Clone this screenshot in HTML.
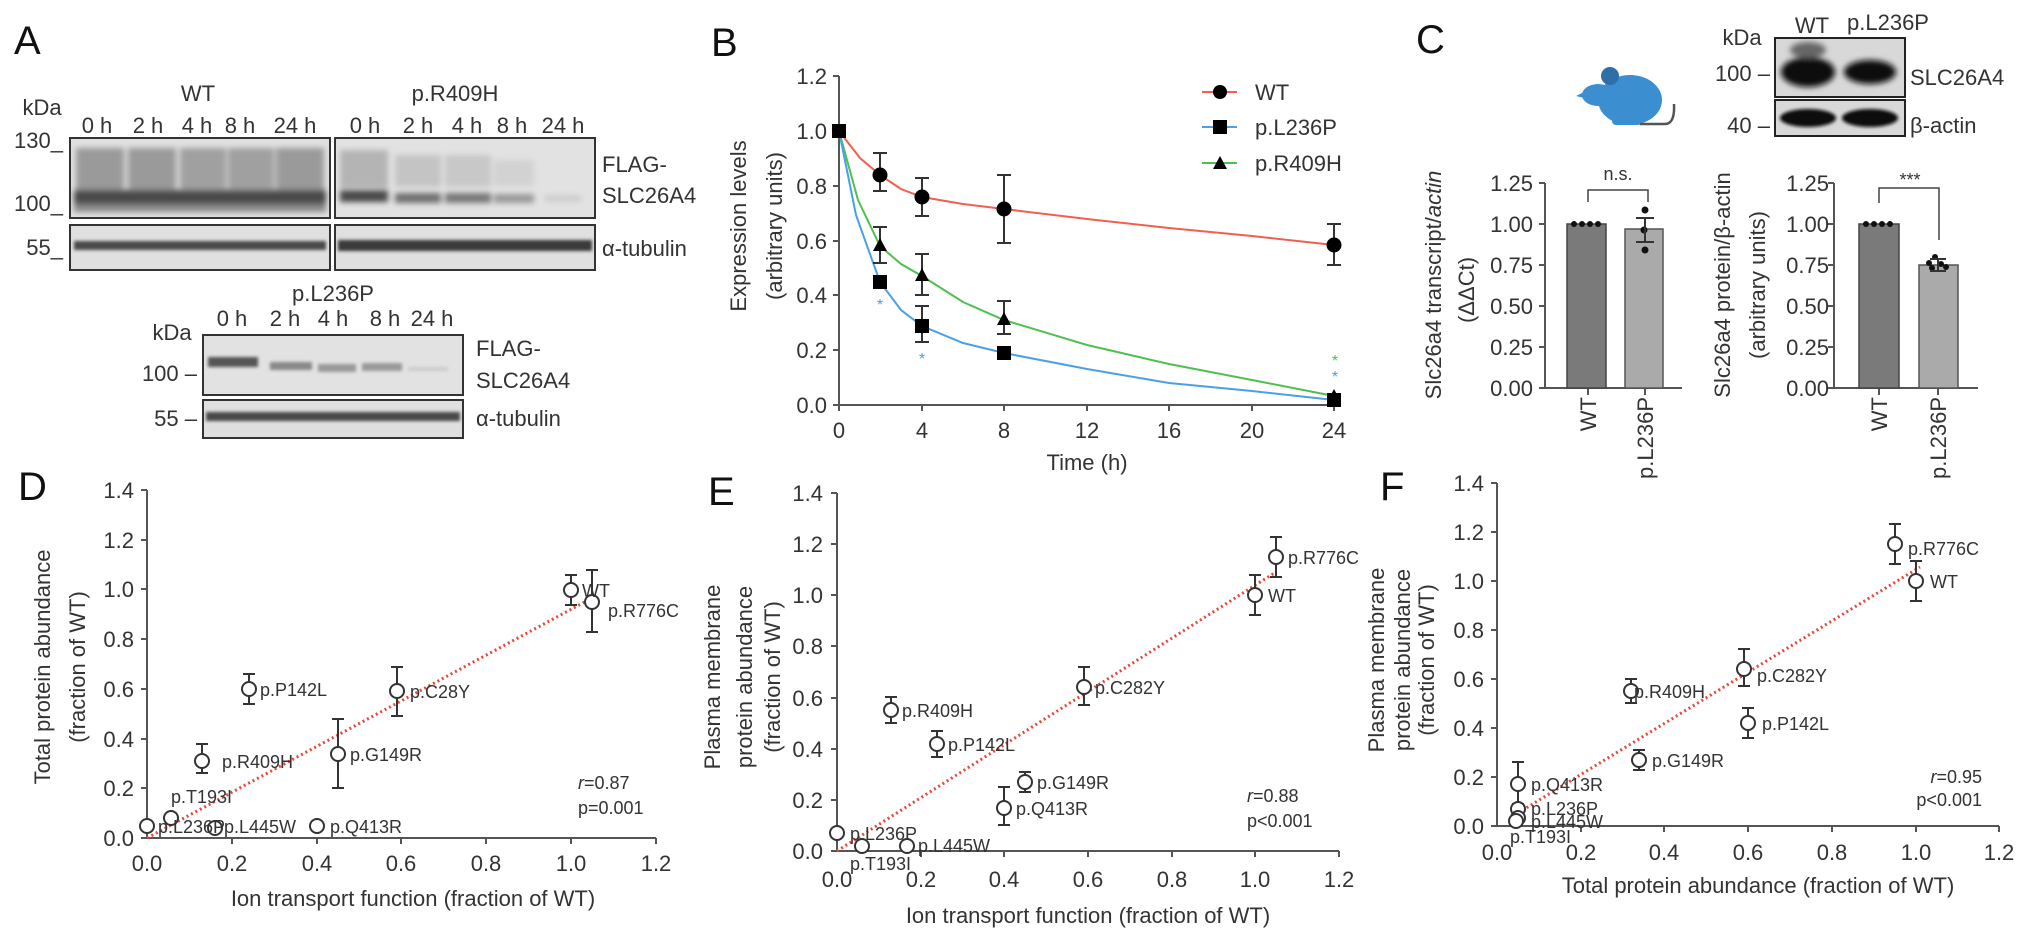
<!DOCTYPE html>
<html><head><meta charset="utf-8"><style>
html,body{margin:0;padding:0;background:#fff;}
svg{display:block;font-family:"Liberation Sans",Arial,sans-serif;}
.t{fill:#333;font-size:22px;}
.s{fill:#333;font-size:18px;}
.L{fill:#111;font-size:40px;}
.ax{stroke:#555;stroke-width:2;fill:none;}
.eb{stroke:#333;stroke-width:2;fill:none;}
.pt{fill:#fff;stroke:#333;stroke-width:2;}
.reg{stroke:#e8473a;stroke-width:3;stroke-dasharray:2 3;fill:none;}
</style></head><body>
<svg width="2032" height="946" viewBox="0 0 2032 946" xmlns="http://www.w3.org/2000/svg">
<defs>
<filter id="bl" x="-10%" y="-50%" width="120%" height="200%"><feGaussianBlur stdDeviation="3"/></filter>
<filter id="bl2" x="-10%" y="-50%" width="120%" height="200%"><feGaussianBlur stdDeviation="1.5"/></filter>
</defs>

<!-- ============ PANEL A ============ -->
<text class="L" x="14" y="54">A</text>
<text class="t" x="198" y="101" text-anchor="middle">WT</text>
<text class="t" x="455" y="101" text-anchor="middle">p.R409H</text>
<text class="t" x="42" y="115" text-anchor="middle">kDa</text>
<g class="t" text-anchor="middle">
<text x="97" y="133">0 h</text><text x="148" y="133">2 h</text><text x="197" y="133">4 h</text><text x="240" y="133">8 h</text><text x="295" y="133">24 h</text>
<text x="365" y="133">0 h</text><text x="418" y="133">2 h</text><text x="467" y="133">4 h</text><text x="512" y="133">8 h</text><text x="563" y="133">24 h</text>
</g>
<g class="t" text-anchor="end"><text x="63" y="148">130_</text><text x="63" y="211">100_</text><text x="63" y="255">55_</text></g>
<!-- WT blot -->
<rect x="70" y="138" width="260" height="80" fill="#e0e0e0"/>
<g filter="url(#bl)">
<rect x="76" y="148" width="48" height="42" fill="#9a9a9a"/><rect x="128" y="148" width="48" height="42" fill="#9a9a9a"/><rect x="180" y="148" width="46" height="42" fill="#a0a0a0"/><rect x="228" y="148" width="46" height="42" fill="#a0a0a0"/><rect x="276" y="148" width="48" height="42" fill="#9a9a9a"/>
<rect x="74" y="190" width="252" height="14" fill="#4a4a4a"/>
<rect x="74" y="204" width="252" height="8" fill="#888"/>
</g>
<rect x="70" y="138" width="260" height="80" fill="none" stroke="#333" stroke-width="2"/>
<rect x="70" y="225" width="260" height="45" fill="#e0e0e0"/>
<rect x="74" y="241" width="252" height="9" fill="#4a4a4a" filter="url(#bl2)"/>
<rect x="70" y="225" width="260" height="45" fill="none" stroke="#333" stroke-width="2"/>
<!-- R409H blot -->
<rect x="335" y="138" width="260" height="80" fill="#e2e2e2"/>
<g filter="url(#bl)">
<rect x="340" y="150" width="48" height="38" fill="#b4b4b4"/><rect x="395" y="155" width="46" height="32" fill="#c4c4c4"/><rect x="445" y="155" width="46" height="32" fill="#c8c8c8"/><rect x="494" y="160" width="40" height="26" fill="#d2d2d2"/>
<rect x="340" y="190" width="48" height="12" fill="#4a4a4a"/><rect x="395" y="193" width="46" height="10" fill="#707070"/><rect x="445" y="193" width="46" height="10" fill="#777"/><rect x="494" y="194" width="40" height="9" fill="#999"/><rect x="545" y="196" width="36" height="5" fill="#c6c6c6"/>
</g>
<rect x="335" y="138" width="260" height="80" fill="none" stroke="#333" stroke-width="2"/>
<rect x="335" y="225" width="260" height="45" fill="#e0e0e0"/>
<rect x="338" y="240" width="254" height="11" fill="#3a3a3a" filter="url(#bl2)"/>
<rect x="335" y="225" width="260" height="45" fill="none" stroke="#333" stroke-width="2"/>
<text class="t" x="602" y="172">FLAG-</text><text class="t" x="602" y="203">SLC26A4</text>
<text class="t" x="602" y="256">α-tubulin</text>
<!-- L236P blot -->
<text class="t" x="333" y="301" text-anchor="middle">p.L236P</text>
<g class="t" text-anchor="middle"><text x="232" y="326">0 h</text><text x="285" y="326">2 h</text><text x="333" y="326">4 h</text><text x="385" y="326">8 h</text><text x="432" y="326">24 h</text></g>
<text class="t" x="172" y="340" text-anchor="middle">kDa</text>
<rect x="203" y="335" width="260" height="60" fill="#e2e2e2"/>
<g filter="url(#bl2)">
<rect x="208" y="357" width="50" height="10" fill="#555"/><rect x="270" y="362" width="42" height="8" fill="#888"/><rect x="318" y="364" width="38" height="8" fill="#999"/><rect x="362" y="363" width="40" height="8" fill="#999"/><rect x="408" y="367" width="40" height="4" fill="#ccc"/>
</g>
<rect x="203" y="335" width="260" height="60" fill="none" stroke="#333" stroke-width="2"/>
<rect x="203" y="400" width="260" height="38" fill="#e0e0e0"/>
<rect x="206" y="412" width="254" height="9" fill="#4a4a4a" filter="url(#bl2)"/>
<rect x="203" y="400" width="260" height="38" fill="none" stroke="#333" stroke-width="2"/>
<text class="t" x="197" y="381" text-anchor="end">100 –</text>
<text class="t" x="197" y="426" text-anchor="end">55 –</text>
<text class="t" x="476" y="356">FLAG-</text><text class="t" x="476" y="388">SLC26A4</text>
<text class="t" x="476" y="426">α-tubulin</text>

<!-- ============ PANEL B ============ -->
<text class="L" x="711" y="56">B</text>
<path class="ax" d="M839 76 V405 H1334"/>
<g class="ax"><path d="M833 76H839M833 131H839M833 186H839M833 241H839M833 295H839M833 350H839M833 405H839"/>
<path d="M839 405v6M922 405v6M1004 405v6M1087 405v6M1169 405v6M1252 405v6M1334 405v6"/></g>
<g class="t" text-anchor="end"><text x="827" y="84">1.2</text><text x="827" y="139">1.0</text><text x="827" y="194">0.8</text><text x="827" y="249">0.6</text><text x="827" y="303">0.4</text><text x="827" y="358">0.2</text><text x="827" y="413">0.0</text></g>
<g class="t" text-anchor="middle"><text x="839" y="438">0</text><text x="922" y="438">4</text><text x="1004" y="438">8</text><text x="1087" y="438">12</text><text x="1169" y="438">16</text><text x="1252" y="438">20</text><text x="1334" y="438">24</text>
<text x="1087" y="470">Time (h)</text></g>
<text class="t" transform="translate(746,226) rotate(-90)" text-anchor="middle">Expression levels</text>
<text class="t" transform="translate(782,226) rotate(-90)" text-anchor="middle">(arbitrary units)</text>
<polyline fill="none" stroke="#f0604e" stroke-width="2" points="839,131 860,158 880,175 901,189 922,197 963,204 1004,209 1087,219 1169,228 1252,236 1334,245"/>
<polyline fill="none" stroke="#4ec04e" stroke-width="2" points="839,131 858,200 880,246 901,264 922,276 963,302 1004,320 1087,345 1169,364 1252,380 1334,396"/>
<polyline fill="none" stroke="#4aa0e6" stroke-width="2" points="839,131 856,215 880,282 901,310 922,326 963,343 1004,353 1087,369 1169,383 1252,391 1334,400"/>
<g class="eb"><path d="M880 153V191M873 153h14M873 191h14M922 178V216M915 178h14M915 216h14M1004 175V243M997 175h14M997 243h14M1334 224V265M1327 224h14M1327 265h14"/>
<path d="M880 227V263M873 227h14M873 263h14M922 254V295M915 254h14M915 295h14M1004 301V334M997 301h14M997 334h14M922 306V342M915 306h14M915 342h14"/></g>
<g fill="#000"><circle cx="880" cy="175" r="7.5"/><circle cx="922" cy="197" r="7.5"/><circle cx="1004" cy="209" r="7.5"/><circle cx="1334" cy="245" r="7.5"/>
<path d="M880 238l7 13h-14zM922 268l7 13h-14zM1004 312l7 13h-14zM1334 389l7 13h-14z"/>
<rect x="832" y="124" width="14" height="14"/><rect x="873" y="275" width="14" height="14"/><rect x="915" y="319" width="14" height="14"/><rect x="997" y="346" width="14" height="14"/><rect x="1327" y="393" width="14" height="14"/></g>
<g font-size="16" text-anchor="middle"><text x="880" y="310" fill="#4aa0e6">*</text><text x="922" y="364" fill="#4aa0e6">*</text><text x="1335" y="366" fill="#4ec04e">*</text><text x="1335" y="382" fill="#4aa0e6">*</text></g>
<!-- legend -->
<path d="M1202 92H1237" stroke="#f0604e" stroke-width="2"/><circle cx="1220" cy="92" r="7" fill="#000"/>
<path d="M1202 127H1237" stroke="#4aa0e6" stroke-width="2"/><rect x="1213" y="120" width="14" height="14" fill="#000"/>
<path d="M1202 163H1237" stroke="#4ec04e" stroke-width="2"/><path d="M1220 156l7 13h-14z" fill="#000"/>
<g class="t"><text x="1255" y="100">WT</text><text x="1255" y="135">p.L236P</text><text x="1255" y="171">p.R409H</text></g>

<!-- ============ PANEL C ============ -->
<text class="L" x="1416" y="53">C</text>
<!-- mouse -->
<g fill="#3b8fd1">
<ellipse cx="1630" cy="100" rx="32" ry="25"/>
<ellipse cx="1598" cy="95" rx="16" ry="11"/>
<circle cx="1610" cy="76" r="9" fill="#2f6fa8"/>
<rect x="1612" y="115" width="30" height="10" rx="4"/>
<path d="M1576 96 l12 -6 l4 10z"/>
</g>
<path d="M1640 124 H1665 Q1675 124 1674 104" stroke="#555" stroke-width="2.5" fill="none"/>
<!-- western -->
<text class="t" x="1742" y="45" text-anchor="middle">kDa</text>
<text class="t" x="1812" y="33" text-anchor="middle">WT</text>
<text class="t" x="1888" y="30" text-anchor="middle">p.L236P</text>
<rect x="1775" y="38" width="130" height="59" fill="#d8d8d8"/>
<g filter="url(#bl)"><ellipse cx="1808" cy="72" rx="27" ry="15" fill="#111"/><ellipse cx="1870" cy="72" rx="26" ry="12" fill="#111"/><ellipse cx="1808" cy="50" rx="18" ry="8" fill="#666"/></g>
<rect x="1775" y="38" width="130" height="59" fill="none" stroke="#222" stroke-width="2"/>
<rect x="1775" y="100" width="130" height="36" fill="#d8d8d8"/>
<g filter="url(#bl2)"><ellipse cx="1808" cy="118" rx="28" ry="9" fill="#111"/><ellipse cx="1870" cy="118" rx="28" ry="9" fill="#111"/></g>
<rect x="1775" y="100" width="130" height="36" fill="none" stroke="#222" stroke-width="2"/>
<text class="t" x="1770" y="81" text-anchor="end">100 –</text>
<text class="t" x="1770" y="133" text-anchor="end">40 –</text>
<text class="t" x="1910" y="85">SLC26A4</text>
<text class="t" x="1910" y="133">β-actin</text>
<!-- left bar chart -->
<path class="ax" d="M1545 183V388H1682"/>
<g class="ax"><path d="M1539 183H1545M1539 224H1545M1539 265H1545M1539 306H1545M1539 347H1545M1539 388H1545M1588 388v7M1645 388v7"/></g>
<g class="t" text-anchor="end"><text x="1533" y="191">1.25</text><text x="1533" y="232">1.00</text><text x="1533" y="273">0.75</text><text x="1533" y="314">0.50</text><text x="1533" y="355">0.25</text><text x="1533" y="396">0.00</text></g>
<rect x="1567" y="224" width="39" height="164" fill="#7a7a7a" stroke="#444" stroke-width="1.5"/>
<rect x="1625" y="229" width="38" height="159" fill="#aaa" stroke="#555" stroke-width="1.5"/>
<g fill="#111"><circle cx="1574" cy="224" r="3"/><circle cx="1582" cy="224" r="3"/><circle cx="1590" cy="224" r="3"/><circle cx="1598" cy="224" r="3"/>
<circle cx="1645" cy="210" r="3.5"/><circle cx="1644" cy="230" r="3.5"/><circle cx="1645" cy="250" r="3.5"/></g>
<path class="eb" d="M1645 218V242M1636 218h18M1636 242h18"/>
<path d="M1588 202V190H1648V202" stroke="#444" stroke-width="1.5" fill="none"/>
<text class="s" x="1618" y="180" text-anchor="middle">n.s.</text>
<text class="t" transform="translate(1441,285) rotate(-90)" text-anchor="middle">Slc26a4 transcript/<tspan font-style="italic">actin</tspan></text>
<text class="t" transform="translate(1474,290) rotate(-90)" text-anchor="middle">(ΔΔCt)</text>
<text class="t" transform="translate(1596,397) rotate(-90)" text-anchor="end">WT</text>
<text class="t" transform="translate(1653,397) rotate(-90)" text-anchor="end">p.L236P</text>
<!-- right bar chart -->
<path class="ax" d="M1834 183V388H1978"/>
<g class="ax"><path d="M1828 183H1834M1828 224H1834M1828 265H1834M1828 306H1834M1828 347H1834M1828 388H1834M1879 388v7M1938 388v7"/></g>
<g class="t" text-anchor="end"><text x="1829" y="191">1.25</text><text x="1829" y="232">1.00</text><text x="1829" y="273">0.75</text><text x="1829" y="314">0.50</text><text x="1829" y="355">0.25</text><text x="1829" y="396">0.00</text></g>
<rect x="1859" y="224" width="40" height="164" fill="#7a7a7a" stroke="#444" stroke-width="1.5"/>
<rect x="1919" y="265" width="39" height="123" fill="#aaa" stroke="#555" stroke-width="1.5"/>
<g fill="#111"><circle cx="1866" cy="224" r="3"/><circle cx="1874" cy="224" r="3"/><circle cx="1882" cy="224" r="3"/><circle cx="1890" cy="224" r="3"/>
<circle cx="1935" cy="257" r="3"/><circle cx="1929" cy="263" r="3"/><circle cx="1941" cy="264" r="3"/><circle cx="1932" cy="268" r="3"/><circle cx="1946" cy="267" r="3"/></g>
<path class="eb" d="M1938 259V271M1930 259h16M1930 271h16"/>
<path d="M1879 203V188H1939V240" stroke="#444" stroke-width="1.5" fill="none"/>
<text class="s" x="1910" y="186" text-anchor="middle">***</text>
<text class="t" transform="translate(1730,285) rotate(-90)" text-anchor="middle">Slc26a4 protein/β-actin</text>
<text class="t" transform="translate(1765,285) rotate(-90)" text-anchor="middle">(arbitrary units)</text>
<text class="t" transform="translate(1887,397) rotate(-90)" text-anchor="end">WT</text>
<text class="t" transform="translate(1946,397) rotate(-90)" text-anchor="end">p.L236P</text>

<!-- ============ PANEL D ============ -->
<text class="L" x="18" y="500">D</text>
<path class="ax" d="M147 490V838H656"/>
<g class="ax"><path d="M141 490H147M141 540H147M141 589H147M141 639H147M141 689H147M141 739H147M141 788H147M141 838H147"/>
<path d="M232 838v6M317 838v6M401 838v6M486 838v6M571 838v6M656 838v6"/></g>
<g class="t" text-anchor="end"><text x="134" y="498">1.4</text><text x="134" y="548">1.2</text><text x="134" y="597">1.0</text><text x="134" y="647">0.8</text><text x="134" y="697">0.6</text><text x="134" y="747">0.4</text><text x="134" y="796">0.2</text><text x="134" y="846">0.0</text></g>
<g class="t" text-anchor="middle"><text x="147" y="871">0.0</text><text x="232" y="871">0.2</text><text x="317" y="871">0.4</text><text x="401" y="871">0.6</text><text x="486" y="871">0.8</text><text x="571" y="871">1.0</text><text x="656" y="871">1.2</text>
<text x="413" y="906">Ion transport function (fraction of WT)</text></g>
<text class="t" transform="translate(50,667) rotate(-90)" text-anchor="middle">Total protein abundance</text>
<text class="t" transform="translate(85,667) rotate(-90)" text-anchor="middle">(fraction of WT)</text>
<path class="reg" d="M147 838L592 598"/>
<g class="eb"><path d="M571 575V605M565 575h12M565 605h12M592 570V632M586 570h12M586 632h12M249 674V704M243 674h12M243 704h12M397 667V716M391 667h12M391 716h12M202 744V773M196 744h12M196 773h12M338 719V788M332 719h12M332 788h12"/></g>
<g class="pt"><circle cx="571" cy="590" r="7"/><circle cx="592" cy="602" r="7"/><circle cx="249" cy="689" r="7"/><circle cx="397" cy="691" r="7"/><circle cx="202" cy="761" r="7"/><circle cx="338" cy="754" r="7"/><circle cx="171" cy="818" r="7"/><circle cx="147" cy="826" r="7"/><circle cx="215" cy="828" r="7"/><circle cx="317" cy="826" r="7"/></g>
<g class="s"><text x="582" y="597">WT</text><text x="608" y="617">p.R776C</text><text x="260" y="696">p.P142L</text><text x="410" y="698">p.C28Y</text><text x="222" y="768">p.R409H</text><text x="350" y="761">p.G149R</text><text x="171" y="803">p.T193I</text><text x="158" y="833">p.L236P</text><text x="224" y="833">p.L445W</text><text x="330" y="833">p.Q413R</text>
<text x="578" y="789"><tspan font-style="italic">r</tspan>=0.87</text><text x="578" y="814">p=0.001</text></g>

<!-- ============ PANEL E ============ -->
<text class="L" x="708" y="505">E</text>
<path class="ax" d="M837 493V851H1339"/>
<g class="ax"><path d="M831 493H837M831 544H837M831 595H837M831 646H837M831 698H837M831 749H837M831 800H837M831 851H837"/>
<path d="M921 851v6M1004 851v6M1088 851v6M1172 851v6M1255 851v6M1339 851v6"/></g>
<g class="t" text-anchor="end"><text x="823" y="501">1.4</text><text x="823" y="552">1.2</text><text x="823" y="603">1.0</text><text x="823" y="654">0.8</text><text x="823" y="706">0.6</text><text x="823" y="757">0.4</text><text x="823" y="808">0.2</text><text x="823" y="859">0.0</text></g>
<g class="t" text-anchor="middle"><text x="837" y="887">0.0</text><text x="921" y="887">0.2</text><text x="1004" y="887">0.4</text><text x="1088" y="887">0.6</text><text x="1172" y="887">0.8</text><text x="1255" y="887">1.0</text><text x="1339" y="887">1.2</text>
<text x="1088" y="923">Ion transport function (fraction of WT)</text></g>
<text class="t" transform="translate(720,677) rotate(-90)" text-anchor="middle">Plasma membrane</text>
<text class="t" transform="translate(752,677) rotate(-90)" text-anchor="middle">protein abundance</text>
<text class="t" transform="translate(780,677) rotate(-90)" text-anchor="middle">(fraction of WT)</text>
<path class="reg" d="M837 851L1276 572"/>
<g class="eb"><path d="M891 697V723M885 697h12M885 723h12M937 731V757M931 731h12M931 757h12M1084 667V705M1078 667h12M1078 705h12M1025 772V792M1019 772h12M1019 792h12M1004 787V825M998 787h12M998 825h12M1255 575V615M1249 575h12M1249 615h12M1276 537V577M1270 537h12M1270 577h12"/></g>
<g class="pt"><circle cx="891" cy="710" r="7"/><circle cx="937" cy="744" r="7"/><circle cx="1084" cy="687" r="7"/><circle cx="1025" cy="782" r="7"/><circle cx="1004" cy="808" r="7"/><circle cx="837" cy="833" r="7"/><circle cx="862" cy="846" r="7"/><circle cx="907" cy="846" r="7"/><circle cx="1255" cy="595" r="7"/><circle cx="1276" cy="557" r="7"/></g>
<g class="s"><text x="902" y="717">p.R409H</text><text x="948" y="751">p.P142L</text><text x="1095" y="694">p.C282Y</text><text x="1037" y="789">p.G149R</text><text x="1016" y="815">p.Q413R</text><text x="850" y="840">p.L236P</text><text x="850" y="870">p.T193I</text><text x="918" y="852">p.L445W</text><text x="1268" y="602">WT</text><text x="1288" y="564">p.R776C</text>
<text x="1247" y="802"><tspan font-style="italic">r</tspan>=0.88</text><text x="1247" y="827">p&lt;0.001</text></g>

<!-- ============ PANEL F ============ -->
<text class="L" x="1380" y="500">F</text>
<path class="ax" d="M1497 483V826H1999"/>
<g class="ax"><path d="M1491 483H1497M1491 532H1497M1491 581H1497M1491 630H1497M1491 679H1497M1491 728H1497M1491 777H1497M1491 826H1497"/>
<path d="M1581 826v6M1664 826v6M1748 826v6M1832 826v6M1916 826v6M1999 826v6"/></g>
<g class="t" text-anchor="end"><text x="1484" y="491">1.4</text><text x="1484" y="540">1.2</text><text x="1484" y="589">1.0</text><text x="1484" y="638">0.8</text><text x="1484" y="687">0.6</text><text x="1484" y="736">0.4</text><text x="1484" y="785">0.2</text><text x="1484" y="834">0.0</text></g>
<g class="t" text-anchor="middle"><text x="1497" y="860">0.0</text><text x="1581" y="860">0.2</text><text x="1664" y="860">0.4</text><text x="1748" y="860">0.6</text><text x="1832" y="860">0.8</text><text x="1916" y="860">1.0</text><text x="1999" y="860">1.2</text>
<text x="1758" y="893">Total protein abundance (fraction of WT)</text></g>
<text class="t" transform="translate(1384,660) rotate(-90)" text-anchor="middle">Plasma membrane</text>
<text class="t" transform="translate(1410,660) rotate(-90)" text-anchor="middle">protein abundance</text>
<text class="t" transform="translate(1434,660) rotate(-90)" text-anchor="middle">(fraction of WT)</text>
<path class="reg" d="M1518 813L1920 567"/>
<g class="eb"><path d="M1895 524V564M1889 524h12M1889 564h12M1916 561V601M1910 561h12M1910 601h12M1744 649V686M1738 649h12M1738 686h12M1748 708V738M1742 708h12M1742 738h12M1631 679V703M1625 679h12M1625 703h12M1639 750V770M1633 750h12M1633 770h12M1518 762V804M1512 762h12M1512 804h12"/></g>
<g class="pt"><circle cx="1895" cy="544" r="7"/><circle cx="1916" cy="581" r="7"/><circle cx="1744" cy="669" r="7"/><circle cx="1748" cy="723" r="7"/><circle cx="1631" cy="691" r="7"/><circle cx="1639" cy="760" r="7"/><circle cx="1518" cy="784" r="7"/><circle cx="1518" cy="809" r="7"/><circle cx="1518" cy="818" r="7"/><circle cx="1516" cy="821" r="7"/></g>
<g class="s"><text x="1908" y="555">p.R776C</text><text x="1930" y="588">WT</text><text x="1757" y="682">p.C282Y</text><text x="1762" y="730">p.P142L</text><text x="1634" y="698">p.R409H</text><text x="1652" y="767">p.G149R</text><text x="1531" y="791">p.Q413R</text><text x="1531" y="815">p.L236P</text><text x="1531" y="828">p.L445W</text><text x="1510" y="843">p.T193I</text>
<text x="1982" y="783" text-anchor="end"><tspan font-style="italic">r</tspan>=0.95</text><text x="1982" y="806" text-anchor="end">p&lt;0.001</text></g>
</svg>
</body></html>
